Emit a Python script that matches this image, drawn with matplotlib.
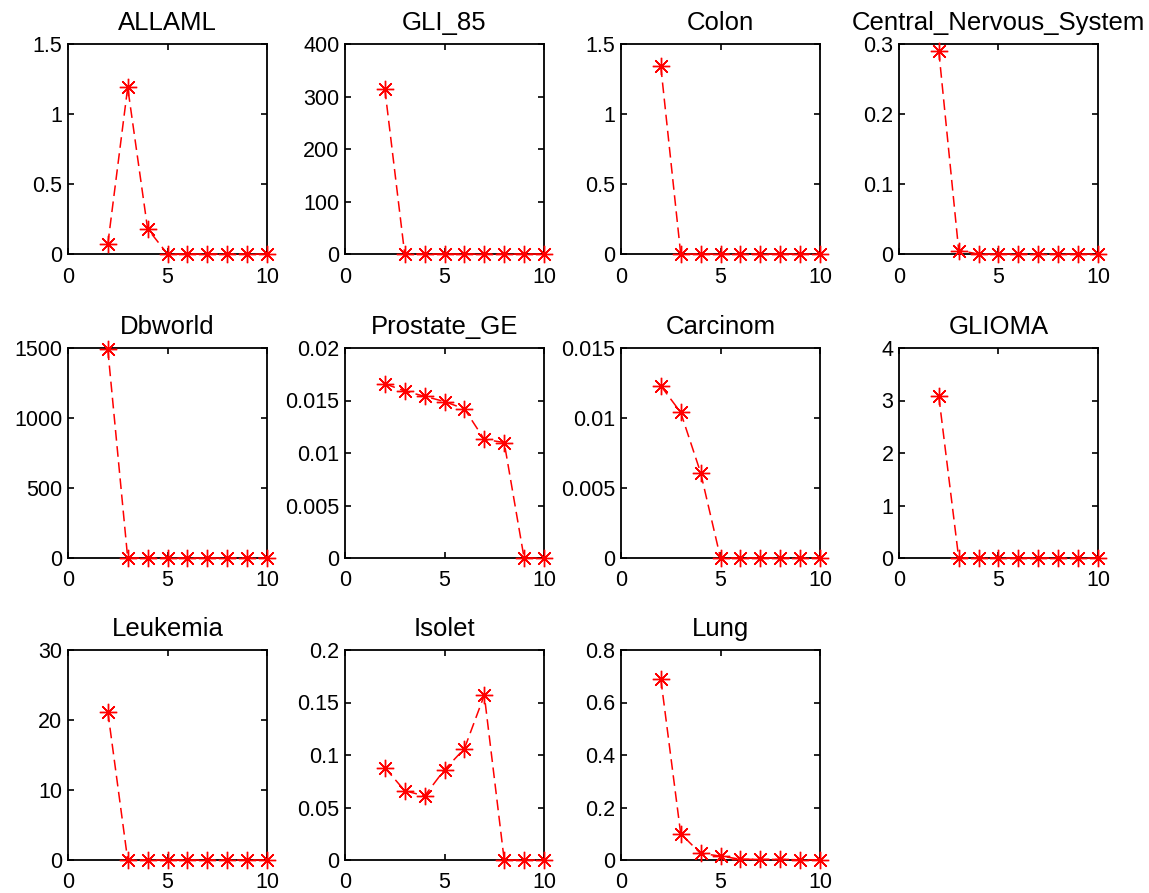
import matplotlib
matplotlib.use("Agg")
import matplotlib.pyplot as plt
from matplotlib.ticker import FuncFormatter

plt.rcParams['font.family'] = ['Liberation Sans', 'DejaVu Sans']

x = [2, 3, 4, 5, 6, 7, 8, 9, 10]

titles = ["ALLAML", "GLI_85", "Colon", "Central_Nervous_System",
          "Dbworld", "Prostate_GE", "Carcinom", "GLIOMA",
          "Leukemia", "Isolet", "Lung"]

allaml = [0.07, 1.19, 0.18, 0, 0, 0, 0, 0, 0]
gli_85 = [315, 0, 0, 0, 0, 0, 0, 0, 0]
colon = [1.34, 0, 0, 0, 0, 0, 0, 0, 0]
cns = [0.29, 0.005, 0, 0, 0, 0, 0, 0, 0]
dbworld = [1490, 0, 0, 0, 0, 0, 0, 0, 0]
prostate = [0.0166, 0.0159, 0.0154, 0.0149, 0.0142, 0.0113, 0.0110, 0, 0]
carcinom = [0.0123, 0.0104, 0.0061, 0, 0, 0, 0, 0, 0]
glioma = [3.08, 0, 0, 0, 0, 0, 0, 0, 0]
leukemia = [21.2, 0, 0, 0, 0, 0, 0, 0, 0]
isolet = [0.088, 0.066, 0.061, 0.086, 0.106, 0.157, 0, 0, 0]
lung = [0.69, 0.10, 0.025, 0.015, 0.003, 0.002, 0.002, 0.001, 0.001]

series = [allaml, gli_85, colon, cns, dbworld, prostate, carcinom, glioma,
          leukemia, isolet, lung]

ylims = [(0, 1.5), (0, 400), (0, 1.5), (0, 0.3), (0, 1500), (0, 0.02),
         (0, 0.015), (0, 4), (0, 30), (0, 0.2), (0, 0.8)]
yticks = [[0, 0.5, 1, 1.5], [0, 100, 200, 300, 400], [0, 0.5, 1, 1.5],
          [0, 0.1, 0.2, 0.3], [0, 500, 1000, 1500],
          [0, 0.005, 0.01, 0.015, 0.02], [0, 0.005, 0.01, 0.015],
          [0, 1, 2, 3, 4], [0, 10, 20, 30], [0, 0.05, 0.1, 0.15, 0.2],
          [0, 0.2, 0.4, 0.6, 0.8]]

W, H = 1149, 893
fig = plt.figure(figsize=(W / 100, H / 100), dpi=100)

lefts = [68, 345, 621, 899]
tops = [44, 348, 650]
aw, ah = 199, 210

fmt = FuncFormatter(lambda v, p: "%g" % round(v, 6))

for i, (t, y) in enumerate(zip(titles, series)):
    r, c = divmod(i, 4)
    ax = fig.add_axes([lefts[c] / W, 1 - (tops[r] + ah) / H, aw / W, ah / H])
    ax.plot(x, y, color='red', linestyle=(0, (7, 3.6)), linewidth=1.1,
            marker=(8, 2, 0), markersize=12.5, markeredgewidth=1.0,
            clip_on=False, zorder=3)
    ax.set_xlim(0, 10)
    ax.set_xticks([0, 5, 10])
    ax.set_ylim(*ylims[i])
    ax.set_yticks(yticks[i])
    ax.yaxis.set_major_formatter(fmt)
    ax.set_title(t, fontsize=18.5, pad=10)
    ax.tick_params(direction='in', top=True, right=True, labelsize=15.5,
                   length=4, width=1.2)
    ax.tick_params(axis='x', pad=9)
    ax.tick_params(axis='y', pad=4)
    for s in ax.spines.values():
        s.set_linewidth(1.3)

fig.savefig("out.png", dpi=100)
